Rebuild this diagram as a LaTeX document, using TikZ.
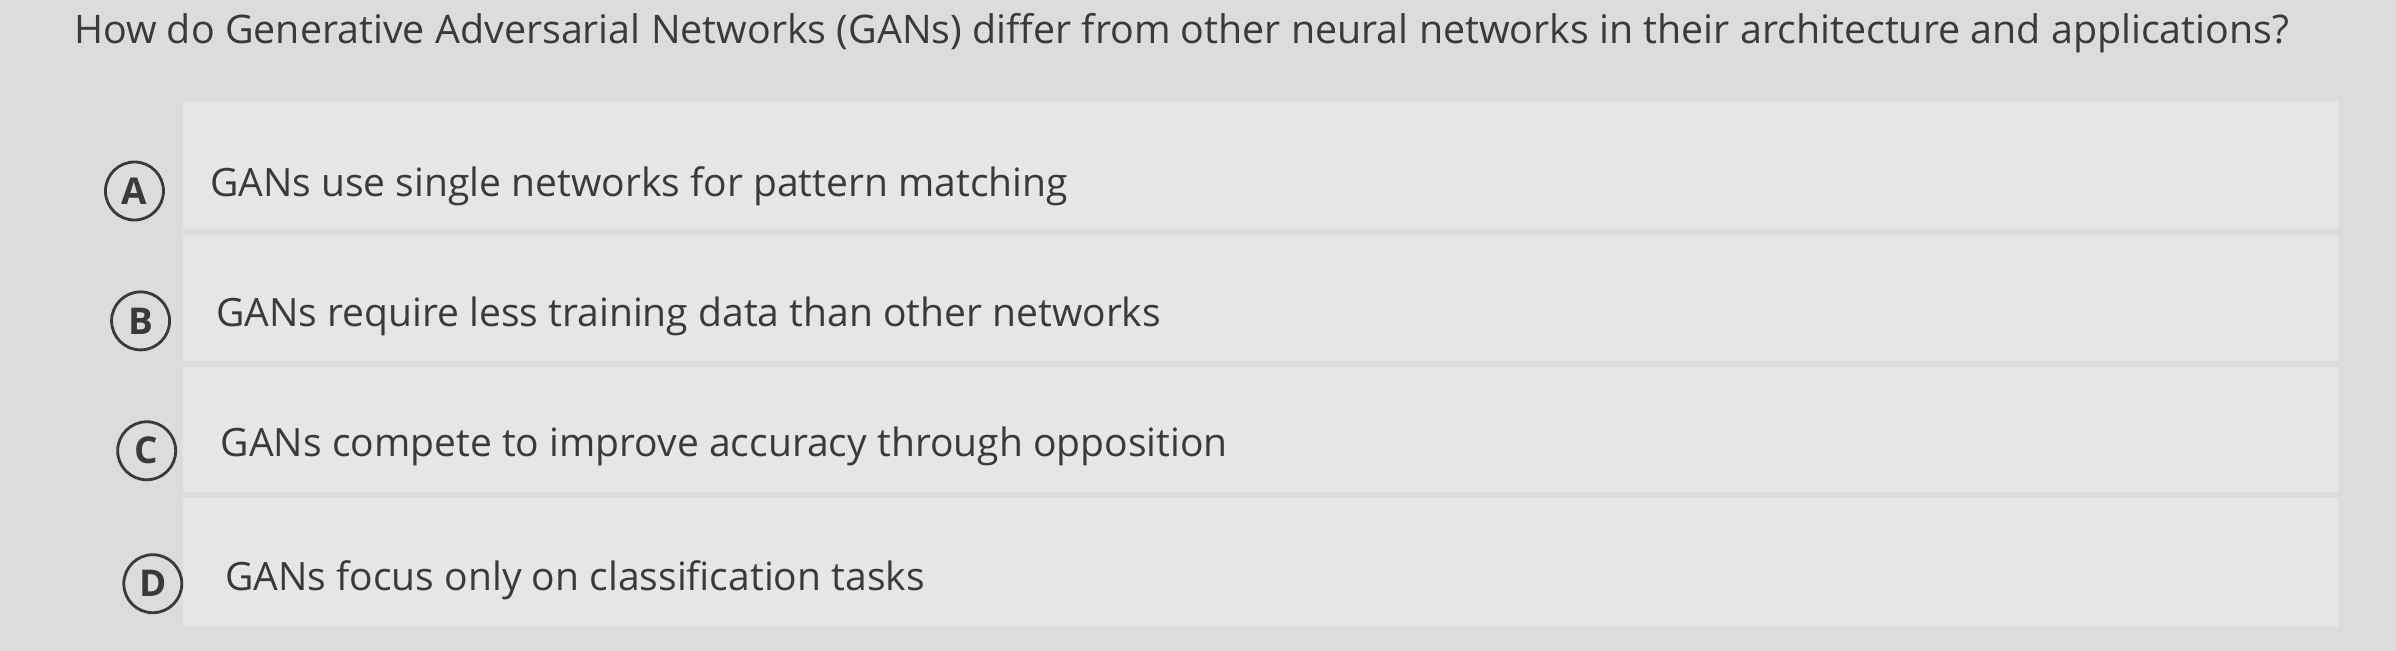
\documentclass[tikz,border=0pt]{standalone}
\usepackage{fontspec}
\setmainfont{Open Sans}
\definecolor{bg}{HTML}{DCDCDA}
\definecolor{band}{HTML}{E6E6E4}
\definecolor{ink}{HTML}{3A3A3C}
\begin{document}
\begin{tikzpicture}[x=0.01528cm,y=-0.01528cm,
  letter/.style={circle,draw=ink,line width=0.8pt,minimum size=0.58cm,inner sep=0pt,text=ink,font=\fontsize{10.5}{13}\selectfont\bfseries},
  opt/.style={anchor=west,text=ink,inner sep=0pt,font=\fontsize{11.1}{14}\selectfont},
  row/.style={fill=band,draw=none}]
\fill[bg] (0,0) rectangle (1568,426);
\useasboundingbox (0,0) rectangle (1568,426);
\fill[row] (120,66) rectangle (1530,150);
\fill[row] (120,154) rectangle (1530,236);
\fill[row] (120,240) rectangle (1530,322);
\fill[row] (120,326) rectangle (1530,410);
\node[anchor=west,text=ink,inner sep=0pt,font=\fontsize{11.2}{13}\selectfont] (q) at (48,22) {How do Generative Adversarial Networks (GANs) differ from other neural networks in their architecture and applications?};
\node[letter] (a) at (88,125) {A};
\node[opt] (ta) at (137,122) {GANs use single networks for pattern matching};
\node[letter] (b) at (92,210) {B};
\node[opt] (tb) at (141,207) {GANs require less training data than other networks};
\node[letter] (c) at (96,295) {C};
\node[opt] (tc) at (144,292) {GANs compete to improve accuracy through opposition};
\node[letter] (d) at (100,382) {D};
\node[opt] (td) at (147,380) {GANs focus only on classification tasks};
\end{tikzpicture}
\end{document}
